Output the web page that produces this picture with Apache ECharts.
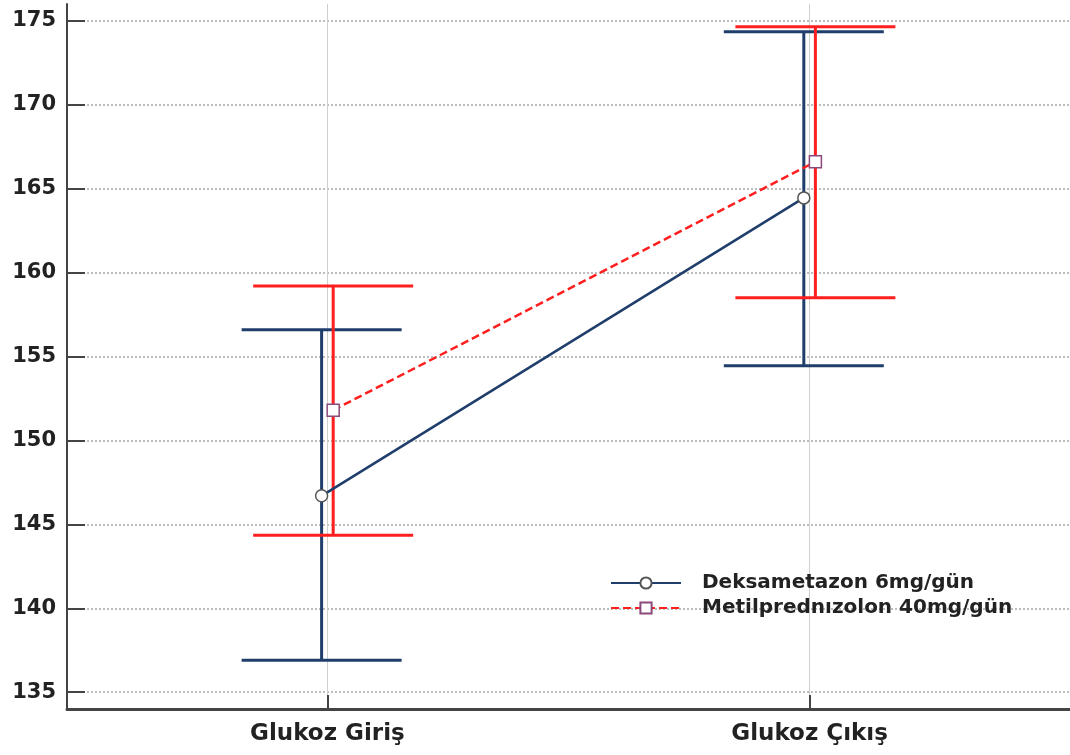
<!DOCTYPE html>
<html>
<head>
<meta charset="utf-8">
<script src="https://cdn.jsdelivr.net/npm/echarts@6/dist/echarts.min.js"></script>
<style>
  html, body { margin: 0; padding: 0; background: #fff; }
  #main { width: 1070px; height: 755px; }
</style>
</head>
<body>
<div id="main"></div>
<script>
// data
var categories = ['Glukoz Giriş', 'Glukoz Çıkış'];
var yTicks = [135, 140, 145, 150, 155, 160, 165, 170, 175];

var dexaName = 'Deksametazon 6mg/gün';
var dexaMean = [146.7, 164.45];
var dexaLow = [136.9, 154.45];
var dexaHigh = [156.6, 174.35];

var metilName = 'Metilprednızolon 40mg/gün';
var metilMean = [151.8, 166.6];
var metilLow = [144.35, 158.5];
var metilHigh = [159.2, 174.65];

var blue = '#1f3e6b';
var red = '#ff1f1f';
var shift = 0.012; // small horizontal dodge of the two groups
var font = 'DejaVu Sans';

function points(mean, off) {
  return mean.map(function (v, i) { return [i + off, v]; });
}
function bars(low, high, off) {
  return low.map(function (v, i) { return [i + off, v, high[i]]; });
}

function errorBar(color) {
  return function (params, api) {
    var x = api.value(0);
    var lo = api.coord([x, api.value(1)]);
    var hi = api.coord([x, api.value(2)]);
    var half = 80;
    var st = { stroke: color, lineWidth: 3 };
    return {
      type: 'group',
      children: [
        { type: 'line', shape: { x1: lo[0], y1: lo[1], x2: hi[0], y2: hi[1] }, style: st },
        { type: 'line', shape: { x1: lo[0] - half, y1: lo[1], x2: lo[0] + half, y2: lo[1] }, style: st },
        { type: 'line', shape: { x1: hi[0] - half, y1: hi[1], x2: hi[0] + half, y2: hi[1] }, style: st }
      ]
    };
  };
}

var myChart = echarts.init(document.getElementById('main'));

var option = {
  animation: false,
  backgroundColor: '#fff',
  grid: { left: 67, right: 0, top: 4, bottom: 46 },
  legend: {
    data: [dexaName, metilName],
    orient: 'vertical',
    left: 605,
    top: 568,
    itemWidth: 70,
    itemHeight: 14,
    itemGap: 5,
    textStyle: {
      fontFamily: font, fontWeight: 'bold', fontSize: 20, color: '#222',
      padding: [0, 0, 0, 16]
    }
  },
  xAxis: {
    type: 'value',
    min: -0.54,
    max: 1.54,
    axisLine: { show: true, onZero: false, lineStyle: { color: '#444', width: 3 } },
    axisTick: { show: true, inside: true, length: 14, customValues: [0, 1], lineStyle: { color: '#444', width: 2 } },
    axisLabel: {
      customValues: [0, 1],
      margin: 14,
      fontFamily: font, fontWeight: 'bold', fontSize: 23, color: '#222',
      formatter: function (v) { return categories[Math.round(v)]; }
    },
    splitLine: { show: true, lineStyle: { color: '#cfcfcf', width: 1 } }
  },
  yAxis: {
    type: 'value',
    min: 134,
    max: 176,
    axisLine: { show: true, onZero: false, lineStyle: { color: '#444', width: 2 } },
    axisTick: { show: true, inside: true, length: 18, customValues: yTicks, lineStyle: { color: '#444', width: 2 } },
    axisLabel: {
      customValues: yTicks,
      margin: 11,
      fontFamily: font, fontWeight: 'bold', fontSize: 21, color: '#222'
    },
    splitLine: { show: true, lineStyle: { color: '#a8a8a8', width: 1.5, type: [2, 2] } }
  },
  series: [
    {
      type: 'custom',
      name: 'dexaErr',
      renderItem: errorBar(blue),
      data: bars(dexaLow, dexaHigh, -shift),
      z: 2
    },
    {
      type: 'custom',
      name: 'metilErr',
      renderItem: errorBar(red),
      data: bars(metilLow, metilHigh, shift),
      z: 2
    },
    {
      type: 'line',
      name: dexaName,
      data: points(dexaMean, -shift),
      symbol: 'circle',
      symbolSize: 12,
      lineStyle: { color: blue, width: 2.5 },
      itemStyle: { color: '#fff', borderColor: '#555', borderWidth: 1.5 },
      z: 5
    },
    {
      type: 'line',
      name: metilName,
      data: points(metilMean, shift),
      symbol: 'rect',
      symbolSize: 12,
      lineStyle: { color: red, width: 2.5, type: [8, 4] },
      itemStyle: { color: '#fff', borderColor: '#8a4a7a', borderWidth: 1.5 },
      z: 5
    }
  ]
};

myChart.setOption(option);
window.onresize = function () {
  myChart.resize();
};
</script>
</body>
</html>
